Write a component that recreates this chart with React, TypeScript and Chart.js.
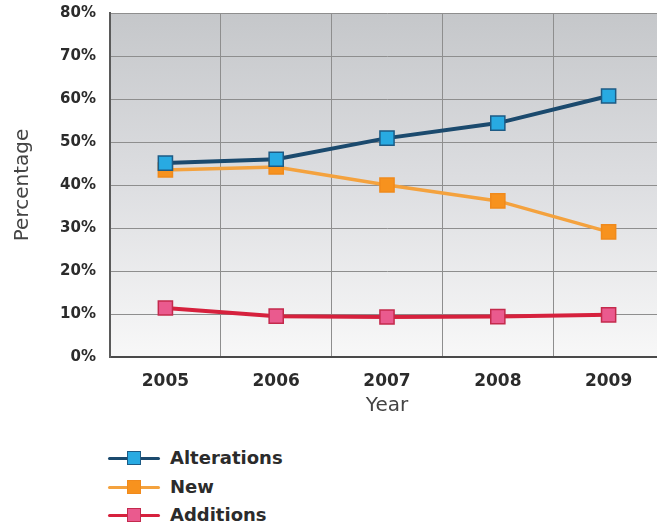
import React, { useEffect, useRef } from "react";
import { Chart, registerables } from "chart.js";

Chart.register(...registerables);

const years = ["2005", "2006", "2007", "2008", "2009"];
const alterations = [45.1, 46.0, 50.9, 54.4, 60.7];
const newBuild = [43.5, 44.2, 40.0, 36.3, 29.1];
const additions = [11.4, 9.5, 9.3, 9.4, 9.8];
const yTicks = [0, 10, 20, 30, 40, 50, 60, 70, 80];

const seriesNames = ["Alterations", "New", "Additions"];
const lineColors = ["#1b4a6e", "#f4a23e", "#d6213d"];
const markerFills = ["#28aae2", "#f7921e", "#ea5a8e"];
const markerBorders = ["#1d5b85", "#f08a1c", "#c42a4c"];
const lineWidths = [4, 3.5, 4];
const seriesData = [alterations, newBuild, additions];

const bgPlugin = {
  id: "plotBg",
  beforeDraw(chart: any) {
    const { ctx, chartArea } = chart;
    const g = ctx.createLinearGradient(0, chartArea.top, 0, chartArea.bottom);
    g.addColorStop(0, "#c5c7ca");
    g.addColorStop(0.5, "#dddee1");
    g.addColorStop(1, "#f8f8f8");
    ctx.save();
    ctx.fillStyle = g;
    ctx.fillRect(chartArea.left, chartArea.top, chartArea.right - chartArea.left, chartArea.bottom - chartArea.top);
    ctx.restore();
  },
};

export default function App() {
  const ref = useRef<HTMLCanvasElement>(null);
  useEffect(() => {
    if (!ref.current) return;
    const chart = new Chart(ref.current, {
      type: "line",
      data: {
        labels: years,
        datasets: seriesNames.map((name, i) => ({
          label: name,
          data: seriesData[i],
          borderColor: lineColors[i],
          borderWidth: lineWidths[i],
          backgroundColor: markerFills[i],
          pointBackgroundColor: markerFills[i],
          pointBorderColor: markerBorders[i],
          pointBorderWidth: 1.5,
          pointStyle: "rect",
          pointRadius: 10,
          tension: 0,
        })),
      },
      options: {
        responsive: false,
        animation: false,
        layout: { autoPadding: false, padding: { top: 13, left: 0, right: 0, bottom: 0 } },
        plugins: { legend: { display: false }, tooltip: { enabled: false } },
        scales: {
          x: {
            type: "category",
            offset: true,
            grid: { offset: true, color: "#8e8e8e", lineWidth: 1, drawTicks: false },
            border: { display: true, color: "#4a4a4a", width: 2 },
            ticks: {
              padding: 14,
              color: "#2b2b2b",
              font: { family: "DejaVu Sans", size: 17, weight: "bold" },
            },
            title: {
              display: true,
              text: "Year",
              color: "#444",
              font: { family: "DejaVu Sans", size: 20 },
              padding: { top: 0, bottom: 2 },
            },
            afterFit(scale: any) {
              scale.height = 420 - 357;
            },
          },
          y: {
            min: 0,
            max: 80,
            afterBuildTicks(scale: any) {
              scale.ticks = yTicks.map((v) => ({ value: v }));
            },
            grid: { color: "#8e8e8e", lineWidth: 1, drawTicks: false },
            border: { display: true, color: "#5a5a5a", width: 2 },
            ticks: {
              padding: 14,
              color: "#2b2b2b",
              font: { family: "DejaVu Sans", size: 15, weight: "bold" },
              callback: (v: any) => v + "%",
            },
            title: {
              display: true,
              text: "Percentage",
              color: "#444",
              font: { family: "DejaVu Sans", size: 20 },
              padding: { top: 11, bottom: 0 },
            },
            afterFit(scale: any) {
              scale.width = 110;
              scale.paddingTop = 0;
              scale.paddingBottom = 0;
            },
          },
        },
      },
      plugins: [bgPlugin],
    });
    return () => chart.destroy();
  }, []);

  const legendTops = [458, 487, 515];

  return (
    <div style={{ position: "fixed", left: 0, top: 0, width: 657, height: 531, overflow: "hidden", background: "#fff" }}>
      <canvas ref={ref} width={664} height={420} style={{ position: "absolute", left: 0, top: 0 }} />
      {seriesNames.map((name, i) => (
        <div key={name} style={{ position: "absolute", left: 108, top: legendTops[i] - 14, height: 28, display: "flex", alignItems: "center" }}>
          <div style={{ position: "relative", width: 52, height: 28 }}>
            <div style={{ position: "absolute", left: 0, top: 12.5, width: 52, height: 3.5, background: lineColors[i], borderRadius: 2 }} />
            <div style={{ position: "absolute", left: 19, top: 7, width: 14, height: 14, background: markerFills[i], border: `1.5px solid ${markerBorders[i]}`, boxSizing: "border-box" }} />
          </div>
          <span style={{ marginLeft: 10, fontFamily: "DejaVu Sans", fontWeight: "bold", fontSize: 18, color: "#2b2b2b", lineHeight: "28px" }}>{name}</span>
        </div>
      ))}
    </div>
  );
}
